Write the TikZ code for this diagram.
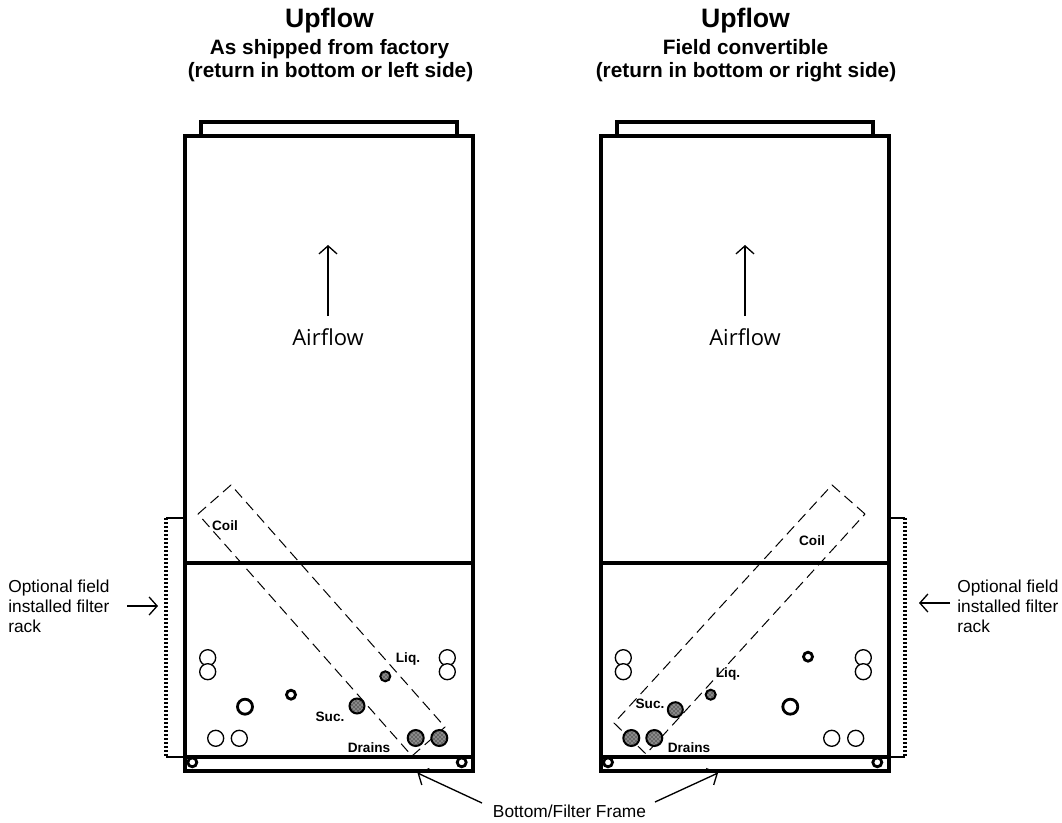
\documentclass[tikz,border=0pt]{standalone}
\usepackage{fontspec}
\setmainfont{Liberation Sans}
\newfontfamily\airfont{Open Sans}
\usetikzlibrary{patterns,arrows.meta}
\tikzset{
  wall/.style={line width=2.7pt,line cap=rect},
  coil/.style={line width=0.75pt,dash pattern=on 8pt off 4.5pt},
  hole/.style={circle,draw,line width=1pt,fill=white,inner sep=0pt,minimum size=#1*0.75pt},
  thickhole/.style={circle,draw,line width=2.1pt,fill=white,inner sep=0pt,minimum size=#1*0.75pt},
  hatch/.style={circle,draw,line width=1.5pt,preaction={fill=black!60},pattern=crosshatch dots,pattern color=white,inner sep=0pt,minimum size=#1*0.75pt},
  rack/.style={line width=2.3pt,dash pattern=on 1.5pt off 1.5pt},
  tick/.style={line width=1.6pt},
  pointer/.style={line width=1pt,-{Straight Barb[length=6pt,width=13.5pt,line width=1pt]}},
  title/.style={font=\bfseries\fontsize{20}{24}\selectfont,inner sep=0pt,anchor=base},
  subtitle/.style={font=\bfseries\fontsize{15.6}{18}\selectfont,inner sep=0pt,anchor=base},
  air/.style={font=\airfont\fontsize{16.5}{18}\selectfont,inner sep=0pt},
  note/.style={font=\fontsize{13}{15}\selectfont,inner sep=0pt,align=left,anchor=west},
  small/.style={font=\bfseries\fontsize{10.2}{11}\selectfont,inner sep=0pt},
}
\begin{document}
\begin{tikzpicture}[x=0.75pt,y=-0.75pt]
\useasboundingbox (0,0) rectangle (1062,823);
% titles
\node[title] (t1) at (329.5,28) {Upflow};
\node[subtitle] (s1a) at (329.5,55) {As shipped from factory};
\node[subtitle] (s1b) at (330.5,78) {(return in bottom or left side)};
\node[title] (t2) at (745.5,28) {Upflow};
\node[subtitle] (s2a) at (745.5,55) {Field convertible};
\node[subtitle] (s2b) at (746,78) {(return in bottom or right side)};
% left cabinet
\draw[wall] (201,136) -- (201,122) -- (457,122) -- (457,136);
\draw[wall] (185,136) rectangle (473,771);
\draw[wall] (185,563) -- (473,563);
\draw[wall] (185,757) -- (473,757);
% right cabinet
\draw[wall] (617,136) -- (617,122) -- (873,122) -- (873,136);
\draw[wall] (601,136) rectangle (889,771);
\draw[wall] (601,563) -- (889,563);
\draw[wall] (601,757) -- (889,757);
% coils
\draw[coil] (198,514) -- (231,485) -- (445,727) -- (412,756) -- cycle;
\draw[coil] (865,514) -- (832,485) -- (614,723) -- (646,754) -- cycle;
% airflow
\coordinate (a1s) at (328,316); \coordinate (a1e) at (328,245);
\coordinate (a2s) at (745,316); \coordinate (a2e) at (745,245);
\draw[pointer] (a1s) -- (a1e);
\draw[pointer] (a2s) -- (a2e);
\node[air] (air1) at (328,337) {Airflow};
\node[air] (air2) at (745,337) {Airflow};
% left holes
\node[hole=16] (l1) at (207.7,657.7) {};
\node[hole=16] (l2) at (207.7,671.7) {};
\node[hole=16] (l3) at (447.3,657.7) {};
\node[hole=16] (l4) at (447.3,671.7) {};
\node[hole=16] (l5) at (215.7,738.3) {};
\node[hole=16] (l6) at (239.3,738.3) {};
\node[thickhole=15] (l7) at (245,706.7) {};
\node[thickhole=9] (l8) at (291,694.7) {};
\node[hatch=15] (l9) at (357,706) {};
\node[hatch=10] (l10) at (385.3,676.3) {};
\node[hatch=16] (l11) at (415.7,738) {};
\node[hatch=16] (l12) at (439.3,738) {};
\node[thickhole=9] (l13) at (192.3,762.3) {};
\node[thickhole=9] (l14) at (461.7,762.3) {};
% right holes
\node[hole=16] (r1) at (623.3,657.7) {};
\node[hole=16] (r2) at (623.3,671.7) {};
\node[hole=16] (r3) at (863.3,657.7) {};
\node[hole=16] (r4) at (863.3,671.7) {};
\node[hole=16] (r5) at (831.7,738.3) {};
\node[hole=16] (r6) at (855.7,738.3) {};
\node[thickhole=15] (r7) at (790.3,706.7) {};
\node[thickhole=9] (r8) at (808,656.7) {};
\node[hatch=15] (r9) at (675.3,709.7) {};
\node[hatch=10] (r10) at (710.7,694.7) {};
\node[hatch=16] (r11) at (631.3,738) {};
\node[hatch=16] (r12) at (654.3,738) {};
\node[thickhole=9] (r13) at (608,762.3) {};
\node[thickhole=9] (r14) at (877.3,762.3) {};
% small labels
\node[small] (coil1) at (225,526) {Coil};
\node[small] (liq1) at (408,659) {Liq.};
\node[small] (suc1) at (330,717) {Suc.};
\node[small] (dr1) at (369,748) {Drains};
\node[small] (coil2) at (812,541) {Coil};
\node[small] (liq2) at (728,674) {Liq.};
\node[small] (suc2) at (650,704) {Suc.};
\node[small] (dr2) at (689,748) {Drains};
% filter rack brackets
\coordinate (b1t) at (166,518); \coordinate (b1b) at (166,757);
\coordinate (w1t) at (184,518); \coordinate (w1b) at (184,757);
\draw[rack] (b1t) -- (b1b);
\draw[tick] (b1t) -- (w1t);
\draw[tick] (b1b) -- (w1b);
\coordinate (b2t) at (905,518); \coordinate (b2b) at (905,757);
\coordinate (w2t) at (890,518); \coordinate (w2b) at (890,757);
\draw[rack] (b2t) -- (b2b);
\draw[tick] (b2t) -- (w2t);
\draw[tick] (b2b) -- (w2b);
% notes
\node[note] (n1) at (8,606) {Optional field\\[0pt]installed filter\\[0pt]rack};
\node[note] (n2) at (957,606) {Optional field\\[0pt]installed filter\\[0pt]rack};
\coordinate (p1s) at (127,606); \coordinate (p1e) at (158,606);
\coordinate (p2s) at (950,603); \coordinate (p2e) at (919,603);
\draw[pointer] (p1s) -- (p1e);
\draw[pointer] (p2s) -- (p2e);
% frame label
\node[font=\fontsize{13}{15}\selectfont,inner sep=0pt] (fr) at (569.5,811) {Bottom/Filter Frame};
\coordinate (f1s) at (482,803); \coordinate (f1e) at (417.5,773);
\coordinate (f2s) at (655,802); \coordinate (f2e) at (718,773);
\draw[pointer] (f1s) -- (f1e);
\draw[pointer] (f2s) -- (f2e);
\end{tikzpicture}
\end{document}
